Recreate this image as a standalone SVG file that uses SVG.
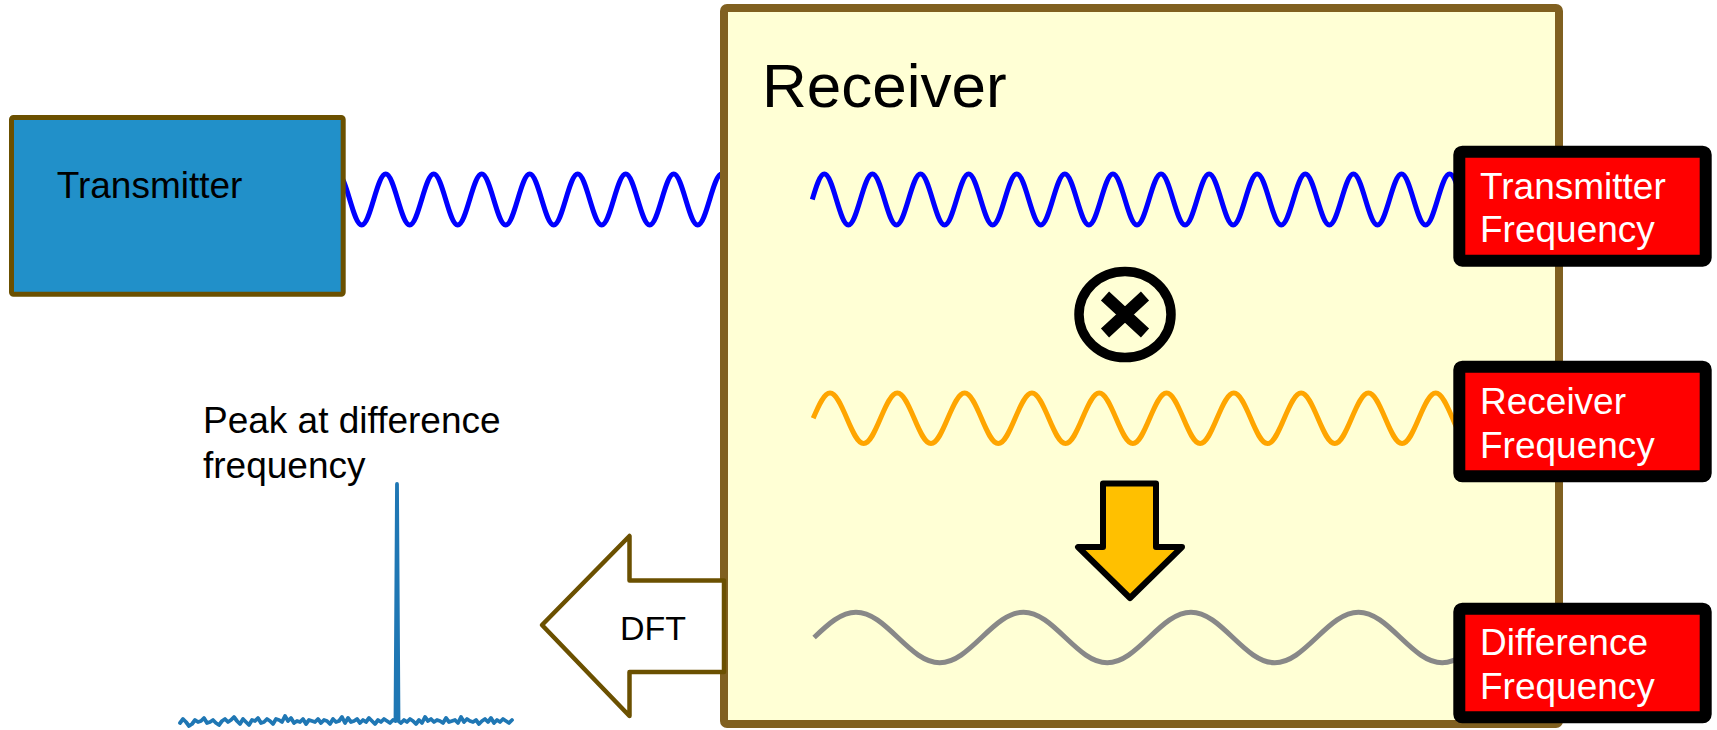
<svg xmlns="http://www.w3.org/2000/svg" width="1717" height="730" viewBox="0 0 1717 730">
<style>
text{font-family:"Liberation Sans",Arial,sans-serif}
.wave{fill:none;stroke-width:5;stroke-linecap:butt}
.lbl rect{fill:#FF0000;stroke:#000;stroke-width:12}
.lbl text{fill:#fff;font-size:37px}
</style>
<g id="connectors">
<path id="tx-wave" class="wave" stroke="#0000FF" d="M337.7,174 c4.319,0 7.988,12.11 12,25.5 s7.681,25.5 12,25.5 s7.988,-12.11 12,-25.5 s7.681,-25.5 12,-25.5 s7.988,12.11 12,25.5 s7.681,25.5 12,25.5 s7.988,-12.11 12,-25.5 s7.681,-25.5 12,-25.5 s7.988,12.11 12,25.5 s7.681,25.5 12,25.5 s7.988,-12.11 12,-25.5 s7.681,-25.5 12,-25.5 s7.988,12.11 12,25.5 s7.681,25.5 12,25.5 s7.988,-12.11 12,-25.5 s7.681,-25.5 12,-25.5 s7.988,12.11 12,25.5 s7.681,25.5 12,25.5 s7.988,-12.11 12,-25.5 s7.681,-25.5 12,-25.5 s7.988,12.11 12,25.5 s7.681,25.5 12,25.5 s7.988,-12.11 12,-25.5 s7.681,-25.5 12,-25.5 s7.988,12.11 12,25.5 s7.681,25.5 12,25.5 s7.988,-12.11 12,-25.5 s7.681,-25.5 12,-25.5 s7.988,12.11 12,25.5 s7.681,25.5 12,25.5 s7.988,-12.11 12,-25.5 s7.681,-25.5 12,-25.5 s7.988,12.11 12,25.5"/>
</g>
<g id="receiver">
<rect x="724" y="8" width="835" height="716" rx="3" fill="#FFFFD5" stroke="#806020" stroke-width="8"/>
<text x="762" y="107" font-size="62" fill="#000">Receiver</text>
</g>
<g id="transmitter">
<rect x="11.5" y="117.5" width="331.7" height="176.7" rx="2" fill="#2190C9" stroke="#6B5000" stroke-width="5"/>
<text x="56.7" y="198.3" font-size="37" fill="#000">Transmitter</text>
</g>
<g id="signals">
<path id="wave-tx" class="wave" stroke="#0000FF" d="M812.3,199.5 c4.02,-13.39 7.697,-25.5 12.025,-25.5 s8.005,12.11 12.025,25.5 s7.697,25.5 12.025,25.5 s8.005,-12.11 12.025,-25.5 s7.697,-25.5 12.025,-25.5 s8.005,12.11 12.025,25.5 s7.697,25.5 12.025,25.5 s8.005,-12.11 12.025,-25.5 s7.697,-25.5 12.025,-25.5 s8.005,12.11 12.025,25.5 s7.697,25.5 12.025,25.5 s8.005,-12.11 12.025,-25.5 s7.697,-25.5 12.025,-25.5 s8.005,12.11 12.025,25.5 s7.697,25.5 12.025,25.5 s8.005,-12.11 12.025,-25.5 s7.697,-25.5 12.025,-25.5 s8.005,12.11 12.025,25.5 s7.697,25.5 12.025,25.5 s8.005,-12.11 12.025,-25.5 s7.697,-25.5 12.025,-25.5 s8.005,12.11 12.025,25.5 s7.697,25.5 12.025,25.5 s8.005,-12.11 12.025,-25.5 s7.697,-25.5 12.025,-25.5 s8.005,12.11 12.025,25.5 s7.697,25.5 12.025,25.5 s8.005,-12.11 12.025,-25.5 s7.697,-25.5 12.025,-25.5 s8.005,12.11 12.025,25.5 s7.697,25.5 12.025,25.5 s8.005,-12.11 12.025,-25.5 s7.697,-25.5 12.025,-25.5 s8.005,12.11 12.025,25.5 s7.697,25.5 12.025,25.5 s8.005,-12.11 12.025,-25.5 s7.697,-25.5 12.025,-25.5 s8.005,12.11 12.025,25.5 s7.697,25.5 12.025,25.5 s8.005,-12.11 12.025,-25.5 s7.697,-25.5 12.025,-25.5 s8.005,12.11 12.025,25.5 s7.697,25.5 12.025,25.5 s8.005,-12.11 12.025,-25.5 s7.697,-25.5 12.025,-25.5 s8.005,12.11 12.025,25.5 s7.697,25.5 12.025,25.5 s8.005,-12.11 12.025,-25.5 s7.697,-25.5 12.025,-25.5 s8.005,12.11 12.025,25.5 s7.697,25.5 12.025,25.5 s8.005,-12.11 12.025,-25.5 s7.697,-25.5 12.025,-25.5 s8.005,12.11 12.025,25.5 s7.697,25.5 12.025,25.5 s8.005,-12.11 12.025,-25.5 s7.697,-25.5 12.025,-25.5"/>
<path id="wave-rx" class="wave" stroke="#FFA500" d="M813.2,418.35 c5.625,-13.259 10.77,-25.25 16.825,-25.25 s11.2,11.991 16.825,25.25 s10.77,25.25 16.825,25.25 s11.2,-11.991 16.825,-25.25 s10.77,-25.25 16.825,-25.25 s11.2,11.991 16.825,25.25 s10.77,25.25 16.825,25.25 s11.2,-11.991 16.825,-25.25 s10.77,-25.25 16.825,-25.25 s11.2,11.991 16.825,25.25 s10.77,25.25 16.825,25.25 s11.2,-11.991 16.825,-25.25 s10.77,-25.25 16.825,-25.25 s11.2,11.991 16.825,25.25 s10.77,25.25 16.825,25.25 s11.2,-11.991 16.825,-25.25 s10.77,-25.25 16.825,-25.25 s11.2,11.991 16.825,25.25 s10.77,25.25 16.825,25.25 s11.2,-11.991 16.825,-25.25 s10.77,-25.25 16.825,-25.25 s11.2,11.991 16.825,25.25 s10.77,25.25 16.825,25.25 s11.2,-11.991 16.825,-25.25 s10.77,-25.25 16.825,-25.25 s11.2,11.991 16.825,25.25 s10.77,25.25 16.825,25.25 s11.2,-11.991 16.825,-25.25 s10.77,-25.25 16.825,-25.25 s11.2,11.991 16.825,25.25 s10.77,25.25 16.825,25.25 s11.2,-11.991 16.825,-25.25 s10.77,-25.25 16.825,-25.25 s11.2,11.991 16.825,25.25 s10.77,25.25 16.825,25.25 s11.2,-11.991 16.825,-25.25 s10.77,-25.25 16.825,-25.25 s11.2,11.991 16.825,25.25 s10.77,25.25 16.825,25.25 s11.2,-11.991 16.825,-25.25 s10.77,-25.25 16.825,-25.25"/>
<path id="wave-diff" class="wave" stroke="#888888" d="M814.1,637.5 c13.999,-13.259 26.804,-25.25 41.875,-25.25 s27.876,11.991 41.875,25.25 s26.804,25.25 41.875,25.25 s27.876,-11.991 41.875,-25.25 s26.804,-25.25 41.875,-25.25 s27.876,11.991 41.875,25.25 s26.804,25.25 41.875,25.25 s27.876,-11.991 41.875,-25.25 s26.804,-25.25 41.875,-25.25 s27.876,11.991 41.875,25.25 s26.804,25.25 41.875,25.25 s27.876,-11.991 41.875,-25.25 s26.804,-25.25 41.875,-25.25 s27.876,11.991 41.875,25.25 s26.804,25.25 41.875,25.25 s27.876,-11.991 41.875,-25.25 s26.804,-25.25 41.875,-25.25"/>
</g>
<g id="multiply">
<ellipse cx="1125" cy="314.5" rx="46" ry="43" fill="none" stroke="#000" stroke-width="9.5"/>
<path d="M1105,296 L1145,333 M1145,296 L1105,333" stroke="#000" stroke-width="12" fill="none"/>
</g>
<g id="down-arrow">
<polygon points="1103,483.5 1156,483.5 1156,547 1182,547 1130,598 1078,547 1103,547" fill="#FFC000" stroke="#000" stroke-width="6" stroke-linejoin="round"/>
</g>
<g id="dft-arrow">
<polygon points="542,625 629.5,536 629.5,580.5 724,580.5 724,672 629.5,672 629.5,716" fill="#fff" stroke="#6B5000" stroke-width="4.5" stroke-linejoin="round"/>
<text x="620" y="640" font-size="34" fill="#000">DFT</text>
</g>
<g id="label-tx" class="lbl">
<rect x="1459.3" y="151.7" width="246.4" height="109" rx="3"/>
<text x="1480" y="198.5">Transmitter</text>
<text x="1480" y="242">Frequency</text>
</g>
<g id="label-rx" class="lbl">
<rect x="1459.3" y="366.7" width="246.4" height="109.6" rx="3"/>
<text x="1480" y="413.5">Receiver</text>
<text x="1480" y="457.5">Frequency</text>
</g>
<g id="label-diff" class="lbl">
<rect x="1459.3" y="608.7" width="246.4" height="108.6" rx="3"/>
<text x="1480" y="654.5">Difference</text>
<text x="1480" y="698.5">Frequency</text>
</g>
<g id="spectrum">
<text x="203" y="433.3" font-size="37" fill="#000">Peak at difference</text>
<text x="203" y="478.3" font-size="37" fill="#000">frequency</text>
<polyline fill="none" stroke="#1F77B4" stroke-width="3.8" stroke-linejoin="round" stroke-linecap="round" points="180,723 183,719 186,722 189,726 192,724 195,720 198,722 201,721 204,718 207,723 210,722 213,720 216,723 219,725 222,721 225,719 228,722 231,720 234,717 237,721 240,724 243,719 246,722 249,725 252,720 255,721 258,718 261,723 264,722 267,719 270,721 273,724 276,719 279,720 282,722 285,716 288,721 291,718 294,723 297,721 300,722 303,719 306,724 309,720 312,721 315,722 318,719 321,723 324,720 327,721 330,724 333,719 336,722 339,721 342,717 345,723 348,718 351,722 354,721 357,719 360,723 363,720 366,722 369,718 372,721 375,724 378,720 381,722 384,719 387,721 390,723 393,720 395.5,721 397,484 398.5,721 401,723 404,720 407,722 410,719 413,721 416,724 419,720 422,723 425,717 428,721 431,719 434,722 437,720 440,721 443,723 446,718 449,722 452,721 455,720 458,723 461,717 464,722 467,719 470,721 473,722 476,720 479,724 482,721 485,719 488,722 491,718 494,723 497,720 500,722 503,719 506,721 509,723 512,720"/>
</g>
</svg>
